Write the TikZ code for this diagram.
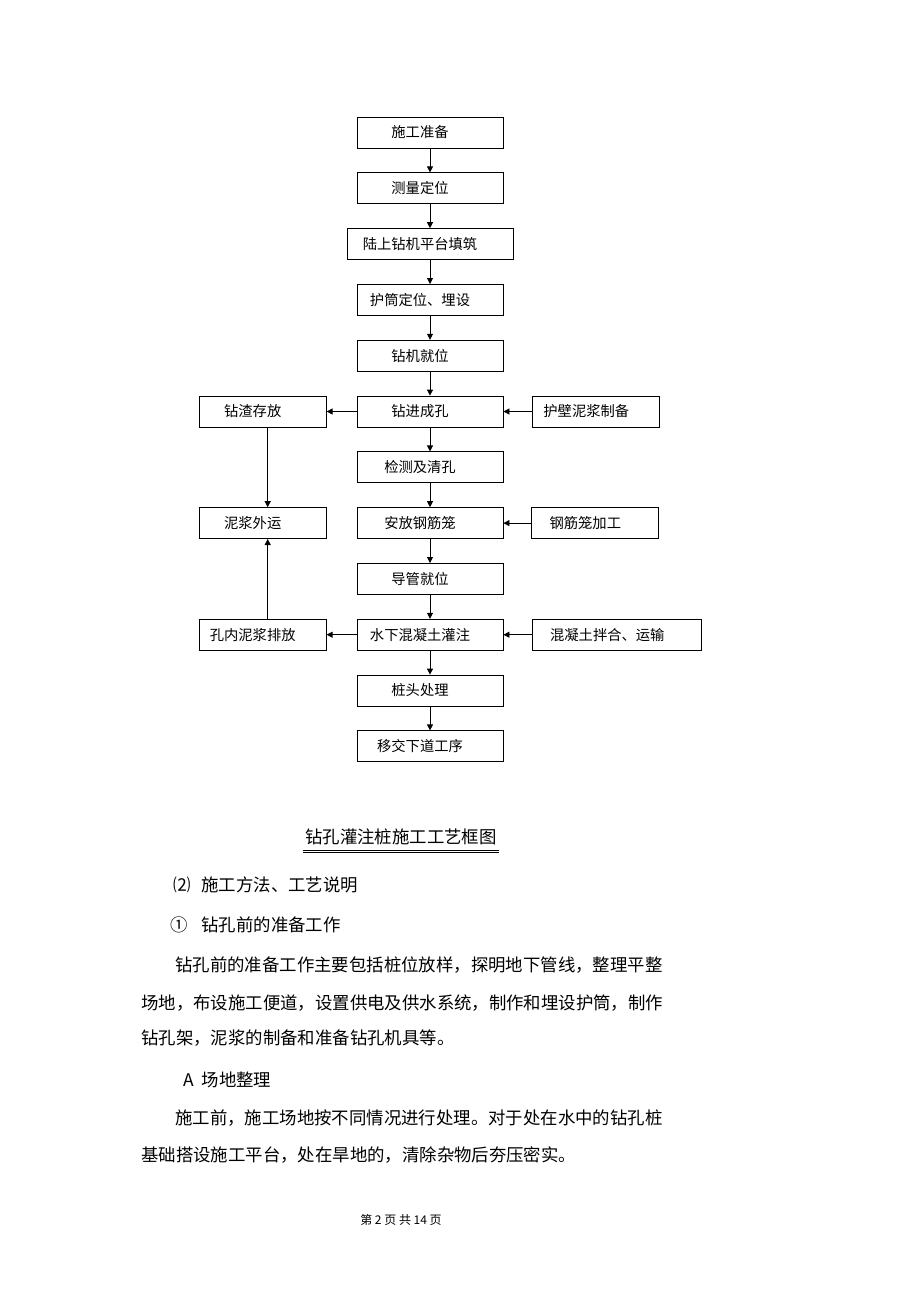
\documentclass[tikz,border=0pt]{standalone}
\usepackage{fontspec}
\setmainfont{Liberation Serif}
\newfontfamily\cjk{Noto Sans CJK SC}
\usetikzlibrary{positioning,arrows.meta}
\tikzset{
  every node/.style={text=black, font=\cjk},
  box/.style={draw=black, line width=0.8pt, minimum width=146pt, minimum height=31pt, inner sep=2pt,
    font=\cjk\fontsize{14.3pt}{16pt}\selectfont, execute at end node={\hspace{20pt}}},
  sidebox/.style={box, minimum width=127pt},
  flow/.style={draw=black, line width=0.8pt, -{Triangle[length=6pt,width=6pt]}},
  body/.style={anchor=base west, inner sep=0pt, font=\cjk\fontsize{17.4pt}{20pt}\selectfont}
}
\begin{document}
\begin{tikzpicture}[x=1pt, y=-1pt, node distance=24pt]
  \useasboundingbox (0,0) rectangle (920,1302);
  % Nodes
  \node (prep) [box] at (430,132.5) {施工准备};
  \node (survey) [box, below=of prep] {测量定位};
  \node (platform) [box, below=of survey, minimum width=166pt] {陆上钻机平台填筑};
  \node (casing) [box, below=of platform] {护筒定位、埋设};
  \node (rig) [box, below=of casing] {钻机就位};
  \node (drill) [box, below=of rig] {钻进成孔};
  \node (clean) [box, below=of drill] {检测及清孔};
  \node (cage) [box, below=of clean] {安放钢筋笼};
  \node (tremie) [box, below=of cage] {导管就位};
  \node (pour) [box, below=of tremie] {水下混凝土灌注};
  \node (head) [box, below=of pour] {桩头处理};
  \node (handover) [box, below=of head] {移交下道工序};

  \node (spoil) [sidebox, left=30pt of drill] {钻渣存放};
  \node (mudprep) [sidebox, right=29pt of drill] {护壁泥浆制备};
  \node (haul) [sidebox, left=30pt of cage] {泥浆外运};
  \node (cagemake) [sidebox, right=28pt of cage] {钢筋笼加工};
  \node (discharge) [sidebox, left=30pt of pour] {孔内泥浆排放};
  \node (concrete) [sidebox, right=29pt of pour, minimum width=169pt] {混凝土拌合、运输};

  % Connectors
  \draw[flow] (prep) -- (survey);
  \draw[flow] (survey) -- (platform);
  \draw[flow] (platform) -- (casing);
  \draw[flow] (casing) -- (rig);
  \draw[flow] (rig) -- (drill);
  \draw[flow] (drill) -- (clean);
  \draw[flow] (clean) -- (cage);
  \draw[flow] (cage) -- (tremie);
  \draw[flow] (tremie) -- (pour);
  \draw[flow] (pour) -- (head);
  \draw[flow] (head) -- (handover);
  \draw[flow] (drill) -- (spoil);
  \draw[flow] (mudprep) -- (drill);
  \draw[flow] (cagemake) -- (cage);
  \draw[flow] (concrete) -- (pour);
  \draw[flow] (pour) -- (discharge);
  \draw[flow] ([xshift=5pt]spoil.south) -- ([xshift=5pt]haul.north);
  \draw[flow] ([xshift=5pt]discharge.north) -- ([xshift=5pt]haul.south);

  % Caption and text
  \node (caption) [anchor=base, inner sep=0pt, font=\cjk\fontsize{17.4pt}{20pt}\selectfont] at (401,843.6) {钻孔灌注桩施工工艺框图};
  \draw[line width=0.7pt] ([xshift=-2.5pt,yshift=-6.5pt]caption.base west) -- ([xshift=2.5pt,yshift=-6.5pt]caption.base east);
  \draw[line width=0.7pt] ([xshift=-2.5pt,yshift=-9pt]caption.base west) -- ([xshift=2.5pt,yshift=-9pt]caption.base east);

  \node (l1) [body] at (173,891.6) {⑵\hspace{11pt}施工方法、工艺说明};
  \node (l2) [body] at (170,931.6) {①\hspace{14pt}钻孔前的准备工作};
  \node (l3) [body] at (175,971.6) {钻孔前的准备工作主要包括桩位放样，探明地下管线，整理平整};
  \node (l4) [body] at (141,1009.6) {场地，布设施工便道，设置供电及供水系统，制作和埋设护筒，制作};
  \node (l5) [body] at (141,1044.6) {钻孔架，泥浆的制备和准备钻孔机具等。};
  \node (l6) [body] at (183,1086.6) {A\hspace{8pt}场地整理};
  \node (l7) [body] at (175,1124.6) {施工前，施工场地按不同情况进行处理。对于处在水中的钻孔桩};
  \node (l8) [body] at (141,1161.6) {基础搭设施工平台，处在旱地的，清除杂物后夯压密实。};
  \node (footer) [anchor=base, inner sep=0pt, font=\cjk\fontsize{12pt}{14pt}\selectfont] at (401,1224.5) {第 2 页 共 14 页};
\end{tikzpicture}
\end{document}
